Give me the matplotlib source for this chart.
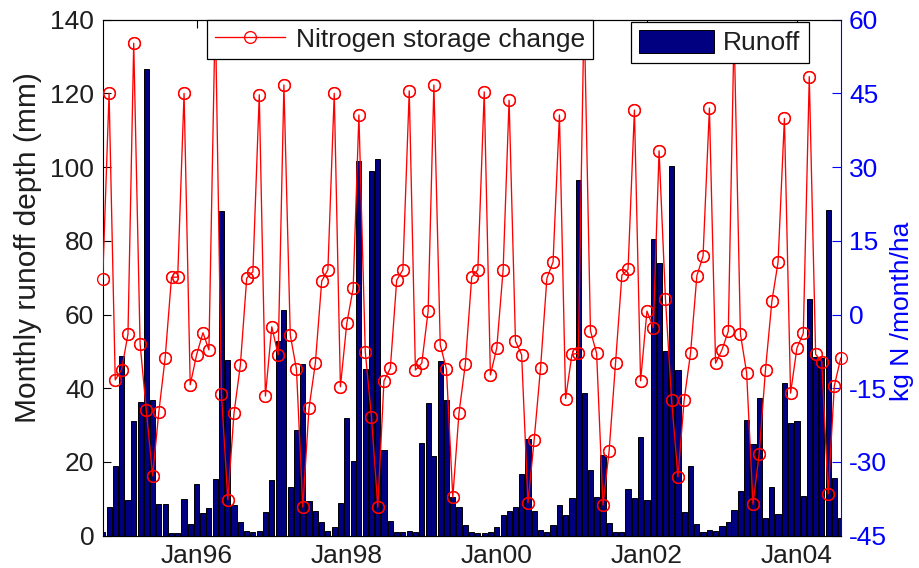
import numpy as np
import matplotlib
matplotlib.use('Agg')
import matplotlib.pyplot as plt
import matplotlib.dates as mdates
import datetime as dt

plt.rcParams['font.family'] = ['Liberation Sans', 'DejaVu Sans']
plt.rcParams['axes.unicode_minus'] = False

# ---------------- data ----------------
start_year, start_month = 1994, 10   # first month of the series (Oct 1994)

runoff_mm = [
    1.1, 7.7, 19.0, 48.8, 9.6, 31.0, 36.4, 126.5, 36.9, 8.6, 8.6, 0.8,
    0.8, 10.0, 3.2, 14.0, 6.1, 7.6, 15.5, 88.0, 47.6, 8.3, 3.6, 1.3,
    0.9, 1.3, 6.4, 15.0, 52.9, 61.1, 13.3, 28.7, 46.6, 9.4, 6.8, 3.8,
    1.4, 2.3, 9.0, 31.9, 20.3, 101.6, 45.2, 98.9, 102.1, 23.3, 4.0, 0.9,
    1.1, 1.4, 1.1, 25.1, 36.1, 21.5, 47.5, 36.9, 10.4, 7.9, 2.8, 0.9,
    0.6, 0.8, 1.1, 2.4, 5.6, 6.8, 7.9, 16.7, 26.2, 6.7, 1.6, 0.9,
    2.8, 8.2, 5.6, 10.3, 96.6, 38.7, 17.7, 10.6, 21.9, 3.4, 0.9, 0.9,
    12.8, 10.3, 26.9, 9.6, 80.4, 74.0, 50.0, 100.3, 45.0, 6.3, 19.0, 3.3,
    0.9, 1.6, 1.3, 2.6, 3.6, 7.0, 12.2, 31.4, 25.0, 37.3, 4.9, 13.3,
    5.9, 41.5, 30.5, 31.0, 10.8, 64.3, 48.6, 48.1, 88.4, 15.6, 4.9,
]

n_storage = [
    7.2, 45.0, -13.3, -11.2, -4.0, 55.2, -6.0, -19.4, -32.8, -19.9, -8.8, 7.6,
    7.6, 45.0, -14.3, -8.2, -3.7, -7.2, 62.0, -16.2, -37.7, -20.1, -10.3, 7.4,
    8.7, 44.7, -16.6, -2.5, -8.2, 46.7, -4.2, -11.1, -39.2, -19.1, -9.9, 6.8,
    9.1, 45.0, -14.7, -1.8, 5.3, 40.6, -7.6, -20.8, -39.2, -13.5, -10.9, 7.0,
    9.1, 45.5, -11.3, -9.9, 0.7, 46.7, -6.2, -11.1, -37.2, -20.1, -10.1, 7.6,
    9.1, 45.3, -12.3, -6.8, 9.1, 43.6, -5.4, -8.2, -38.3, -25.5, -10.9, 7.4,
    10.7, 40.6, -17.1, -8.1, -7.9, 62.0, -3.3, -7.9, -38.8, -27.7, -9.9, 8.0,
    9.2, 41.6, -13.5, 0.7, -2.7, 33.3, 3.2, -17.4, -33.0, -17.4, -7.9, 7.9,
    11.9, 42.0, -9.9, -7.2, -3.4, 58.0, -4.0, -11.8, -38.6, -28.4, -11.2, 2.7,
    10.6, 39.9, -16.0, -6.8, -3.8, 48.4, -8.1, -9.6, -36.5, -14.5, -8.9,
]

left_ticks = [0, 20, 40, 60, 80, 100, 120, 140]
right_ticks = [-45, -30, -15, 0, 15, 30, 45, 60]
xtick_years = [1996, 1998, 2000, 2002, 2004]
xtick_labels = ['Jan96', 'Jan98', 'Jan00', 'Jan02', 'Jan04']

# ---------------- figure ----------------
W, H = 919, 568
fig = plt.figure(figsize=(W / 100, H / 100), dpi=100)
L, R, T, B = 102.7, 840.7, 19.6, 535.7
ax1 = fig.add_axes([L / W, 1 - B / H, (R - L) / W, (B - T) / H])
ax2 = ax1.twinx()

n = len(runoff_mm)
dates = [dt.datetime(start_year + (start_month - 1 + k) // 12,
                     (start_month - 1 + k) % 12 + 1, 1) for k in range(n)]
xd = mdates.date2num(dates)

navy = '#000080'
txt = '#1e1e1e'
fs = 19

bars = ax1.bar(xd, runoff_mm, width=25, color=navy, edgecolor='black',
               linewidth=0.7, label='Runoff', zorder=2)
ax1.set_ylim(0, 140)
ax1.set_yticks(left_ticks)
ax1.set_xlim(xd[0], xd[-1])
ax1.set_xticks(mdates.date2num([dt.datetime(y, 1, 1) for y in xtick_years]))
ax1.set_xticklabels(xtick_labels)

ns = np.array(n_storage, dtype=float)
line, = ax2.plot(xd, ns, color='red', lw=0.95, marker='o', ms=8.5,
                 mfc='none', mec='red', mew=0.95, label='Nitrogen storage change',
                 zorder=3)
vis = np.where(ns <= 60, ns, np.nan)
ax2.plot(xd, vis, ls='none', marker='o', ms=8.5, mfc='none', mec='red',
         mew=0.95, clip_on=False, zorder=3)
ax2.set_ylim(-45, 60)
ax2.set_yticks(right_ticks)
ax2.set_xlim(xd[0], xd[-1])

# styling
for a in (ax1, ax2):
    for s in a.spines.values():
        s.set_linewidth(0.8)
ax1.spines['left'].set_color('black')
ax1.spines['top'].set_color('black')
ax1.spines['bottom'].set_color('black')
ax2.spines['right'].set_color('blue')
ax2.spines['left'].set_visible(False)
ax1.spines['right'].set_visible(False)

ax1.tick_params(axis='y', direction='in', length=5.5, width=0.8, colors='black',
                labelcolor=txt, labelsize=fs, pad=6, right=False)
ax1.tick_params(axis='x', direction='in', length=5.5, width=0.8, colors='black',
                labelcolor=txt, labelsize=fs, pad=6, top=True)
ax2.tick_params(axis='y', direction='in', length=6.5, width=0.8, colors='blue',
                labelcolor='blue', labelsize=fs, pad=6)

fig.text(28 / W, 1 - 248 / H, 'Monthly runoff depth (mm)', rotation=90,
         ha='center', va='center', fontsize=21.5, color=txt)
fig.text(902 / W, 1 - 311 / H, 'kg N /month/ha', rotation=90,
         ha='center', va='center', fontsize=fs, color='blue')

# legends (drawn on top of everything)
leg1 = ax2.legend(handles=[line], loc='upper left',
                  bbox_to_anchor=(206.7 / W, 1 - 19.6 / H),
                  bbox_transform=fig.transFigure, borderaxespad=0,
                  fontsize=fs, frameon=True, fancybox=False, framealpha=1,
                  edgecolor='black', borderpad=0.3, handlelength=2.65,
                  handletextpad=0.42)
leg1.get_frame().set_linewidth(0.9)
for t in leg1.get_texts():
    t.set_color(txt)
ax2.add_artist(leg1)
leg2 = ax2.legend(handles=[bars], loc='upper left',
                  bbox_to_anchor=(631 / W, 1 - 21.7 / H),
                  bbox_transform=fig.transFigure, borderaxespad=0,
                  fontsize=fs, frameon=True, fancybox=False, framealpha=1,
                  edgecolor='black', borderpad=0.3, handlelength=2.85,
                  handleheight=1.0, handletextpad=0.35)
leg2.get_frame().set_linewidth(0.9)
for t in leg2.get_texts():
    t.set_color(txt)

fig.savefig('out.png', dpi=100)
